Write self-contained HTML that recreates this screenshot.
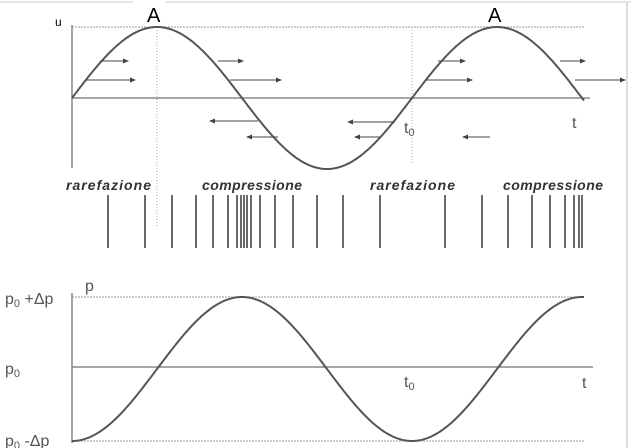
<!DOCTYPE html>
<html><head><style>
body{margin:0;background:#fff;}
svg{display:block;font-family:"Liberation Sans",sans-serif;}
.it{font-style:italic;font-weight:bold;font-size:14px;fill:#333;font-family:"Liberation Sans",sans-serif;}
</style></head><body>
<svg width="631" height="448" viewBox="0 0 631 448">
<defs><marker id="ah" markerWidth="6" markerHeight="6" refX="5" refY="3" orient="auto"><path d="M0,0.5 L6,3 L0,5.5z" fill="#444"/></marker></defs>
<line x1="0" y1="2" x2="133" y2="2" stroke="#ccc"/><line x1="165" y1="2" x2="631" y2="2" stroke="#ccc"/>
<line x1="627" y1="2" x2="627" y2="448" stroke="#bbb"/>
<line x1="72" y1="27" x2="585" y2="27" stroke="#999" stroke-dasharray="2,1"/>
<line x1="72" y1="25" x2="72" y2="168" stroke="#888" stroke-width="1.5"/>
<line x1="72" y1="98" x2="590" y2="98" stroke="#888" stroke-width="1.5"/>
<line x1="157" y1="27" x2="157" y2="228" stroke="#aaa" stroke-dasharray="1,2"/>
<line x1="412" y1="27" x2="412" y2="165" stroke="#aaa" stroke-dasharray="1,2"/>
<path id="w1" fill="none" stroke="#555" stroke-width="2"/>
<g stroke="#444" stroke-width="1" marker-end="url(#ah)">
<line x1="100" y1="61" x2="128" y2="61"/><line x1="86" y1="80" x2="135" y2="80"/>
<line x1="218" y1="61" x2="243" y2="61"/><line x1="230" y1="80" x2="281" y2="80"/>
<line x1="258" y1="121" x2="210" y2="121"/><line x1="278" y1="137" x2="247" y2="137"/>
<line x1="438" y1="61" x2="465" y2="61"/><line x1="425" y1="80" x2="472" y2="80"/>
<line x1="395" y1="122" x2="348" y2="122"/><line x1="380" y1="137" x2="355" y2="137"/>
<line x1="490" y1="137" x2="463" y2="137"/>
<line x1="560" y1="61" x2="585" y2="61"/><line x1="575" y1="80" x2="625" y2="80"/>
</g>
<text x="55" y="26" font-size="12">u</text>
<text x="147" y="22" font-size="20">A</text>
<text x="488" y="22" font-size="20">A</text>
<text x="404" y="133" font-size="16" fill="#555">t<tspan font-size="11" dy="3">0</tspan></text>
<text x="572" y="128" font-size="16" fill="#555">t</text>
<text x="66" y="190" class="it" textLength="85">rarefazione</text>
<text x="202" y="190" class="it" textLength="100">compressione</text>
<text x="370" y="190" class="it" textLength="85">rarefazione</text>
<text x="503" y="190" class="it" textLength="100">compressione</text>
<g id="bars" stroke="#444" stroke-width="1.6"></g>
<line x1="72" y1="297" x2="585" y2="297" stroke="#999" stroke-dasharray="2,1"/>
<line x1="72" y1="441" x2="585" y2="441" stroke="#999" stroke-dasharray="2,1"/>
<line x1="72" y1="293" x2="72" y2="443" stroke="#888" stroke-width="1.5"/>
<line x1="72" y1="367" x2="593" y2="367" stroke="#888" stroke-width="1.5"/>
<path id="w2" fill="none" stroke="#555" stroke-width="2"/>
<text x="85" y="291" font-size="16" fill="#555">p</text>
<text x="5" y="304" font-size="16" fill="#555">p<tspan font-size="11" dy="3">0</tspan><tspan dy="-3"> +Δp</tspan></text>
<text x="5" y="374" font-size="16" fill="#555">p<tspan font-size="11" dy="3">0</tspan></text>
<text x="5" y="446" font-size="16" fill="#555">p<tspan font-size="11" dy="3">0</tspan><tspan dy="-3"> -Δp</tspan></text>
<text x="404" y="387" font-size="16" fill="#555">t<tspan font-size="11" dy="3">0</tspan></text>
<text x="582" y="388" font-size="16" fill="#555">t</text>
</svg>
<script>
var d1="",d2="";
for(var x=72;x<=585;x+=2){var a=(x-72)/340*2*Math.PI;
d1+=(x==72?"M":"L")+x+","+(98-71*Math.sin(a)).toFixed(1);
d2+=(x==72?"M":"L")+x+","+(369+72*Math.cos(a)).toFixed(1);}
document.getElementById("w1").setAttribute("d",d1);
document.getElementById("w2").setAttribute("d",d2);
var xs=[108,145,172,196,213,228,237,241,244,247,251,260,275,293,317,343,380,445,482,508,532,550,565,574,579,582];
var g=document.getElementById("bars"),s="";
xs.forEach(function(x){s+='<line x1="'+x+'" y1="195" x2="'+x+'" y2="248"/>';});
g.innerHTML=s;
</script>
</body></html>
